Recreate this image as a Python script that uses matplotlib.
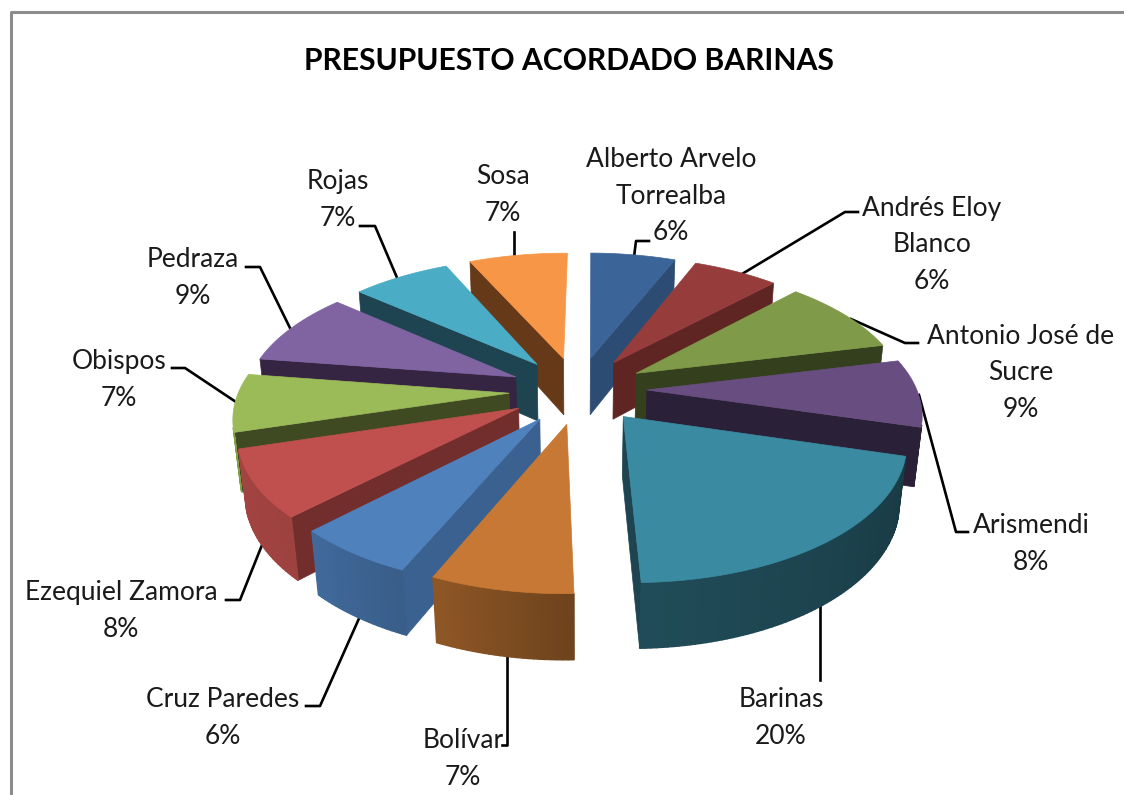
import numpy as np
import matplotlib
matplotlib.use("Agg")
import matplotlib.pyplot as plt

plt.rcParams["font.family"] = ["Lato", "DejaVu Sans"]

# Data, clockwise from the top
categories = [
    "Alberto Arvelo\nTorrealba",
    "Andrés Eloy\nBlanco",
    "Antonio José de\nSucre",
    "Arismendi",
    "Barinas",
    "Bolívar",
    "Cruz Paredes",
    "Ezequiel Zamora",
    "Obispos",
    "Pedraza",
    "Rojas",
    "Sosa",
]
percent = [6, 6, 9, 8, 20, 7, 6, 8, 7, 9, 7, 7]
title = "PRESUPUESTO ACORDADO BARINAS"

# Colours
top_colors = ["#3B6598", "#963D3B", "#7F9A48", "#684E80", "#3A8AA1", "#C67834",
              "#4F81BD", "#C0504D", "#9BBB59", "#8064A2", "#4BACC6", "#F79646"]
side_colors = ["#2C4C73", "#5F2523", "#34401D", "#2A2138", "#1D4450", "#6E4420",
               "#3A618F", "#722E2C", "#404A22", "#362542", "#1D4450", "#663A19"]

# Label centres and leader lines, in picture pixels
label_x = [671, 932, 1021, 1031, 781, 463, 223, 121, 119, 193, 338, 503]
label_y = [196, 245, 373, 544, 718, 759, 718, 611, 380, 278, 200, 195]
leaders = [
    [(634, 257), (636, 241), (649, 241)],
    [(742, 274), (845, 212), (858, 212)],
    [(851, 319), (905, 343), (918, 343)],
    [(919, 395), (956, 532), (968, 532)],
    [(820, 603), (820, 680)],
    [(507, 653), (507, 745), (502, 745)],
    [(361, 614), (320, 706), (306, 706)],
    [(262, 545), (240, 600), (226, 600)],
    [(236, 402), (185, 368), (172, 368)],
    [(291, 330), (260, 267), (246, 267)],
    [(398, 280), (375, 226), (360, 226)],
    [(514, 257), (514, 232)],
]

# Camera of the 3D pie
cx, cy = 578, 390
scale_px = 270
tilt = np.radians(29)
focal = 5.6
explode = 0.255
height = 0.25


def project(x, y, z):
    # x to the right, y to the back, z up -> picture pixels
    up = y * np.sin(tilt) + z * np.cos(tilt)
    depth = y * np.cos(tilt) - z * np.sin(tilt)
    k = scale_px / (1 + depth / focal)
    return cx + x * k, cy - up * k


def turned(t):
    # the original is turned a bit more at the front than at the back
    return np.radians(t + 0.5 + 0.75 * (1 - np.cos(np.radians(t))))


def darker(color, factor):
    rgb = np.array(matplotlib.colors.to_rgb(color))
    return tuple(rgb * factor)


def outer_shade(t):
    # brightness of the round wall against the angle in degrees
    return np.interp(t, [70, 104, 176, 201, 223, 252, 300],
                     [0.42, 0.42, 0.55, 0.72, 0.82, 0.85, 0.85])


def signed_area(xs, ys):
    return 0.5 * np.sum(xs * np.roll(ys, -1) - np.roll(xs, -1) * ys)


fig = plt.figure(figsize=(11.24, 7.95), dpi=100)
ax = fig.add_axes([0, 0, 1, 1])
ax.set_xlim(0, 1124)
ax.set_ylim(795, 0)
ax.axis("off")

# grey chart frame, cut by the picture on the other sides
ax.plot([11, 11, 1124], [795, 12, 12], color="#8C8C8C", lw=2.2, zorder=1)

ax.text(569, 61, title, ha="center", va="center", fontsize=21.7,
        fontweight="bold", color="black", zorder=5)

for pts in leaders:
    ax.plot([p[0] for p in pts], [p[1] for p in pts], color="black", lw=1.9, zorder=1)

edges = np.cumsum([0] + percent) * 3.6
mids = (edges[:-1] + edges[1:]) / 2
order = np.argsort(-np.cos(np.radians(mids)))

for rank, i in enumerate(order):
    t0, t1 = edges[i], edges[i + 1]
    m = np.radians(mids[i])
    ox, oy = explode * np.sin(m), explode * np.cos(m)
    ts = np.linspace(t0, t1, max(int(t1 - t0), 6) + 1)
    rx = ox + np.sin(turned(ts))
    ry = oy + np.cos(turned(ts))
    z = 2 + rank * 0.01

    # two flat sides, only where they face the camera (skip slivers)
    for (ex, ey), flip in (((rx[0], ry[0]), -1), ((rx[-1], ry[-1]), 1)):
        xs, ys = project(np.array([ox, ex, ex, ox]), np.array([oy, ey, ey, oy]),
                         np.array([0, 0, -height, -height]))
        if signed_area(xs, ys) * flip > 300:
            ax.fill(xs, ys, color=side_colors[i], lw=0.5, zorder=z)

    # round wall in thin strips, so it can change brightness
    for a in range(len(ts) - 1):
        xs, ys = project(np.array([rx[a], rx[a + 1], rx[a + 1], rx[a]]),
                         np.array([ry[a], ry[a + 1], ry[a + 1], ry[a]]),
                         np.array([0, 0, -height, -height]))
        if signed_area(xs, ys) < 0:
            shade = outer_shade((ts[a] + ts[a + 1]) / 2)
            ax.fill(xs, ys, color=darker(top_colors[i], shade), lw=1.0, zorder=z)

    xs, ys = project(np.r_[ox, rx], np.r_[oy, ry], np.zeros(len(rx) + 1))
    ax.fill(xs, ys, color=top_colors[i], lw=0.5, zorder=z + 0.001)

for name, p, x, y in zip(categories, percent, label_x, label_y):
    ax.text(x, y, f"{name}\n{p}%", ha="center", va="center", fontsize=19,
            linespacing=1.58, color="#1a1a1a", zorder=6)

fig.savefig("out.png", dpi=100)
